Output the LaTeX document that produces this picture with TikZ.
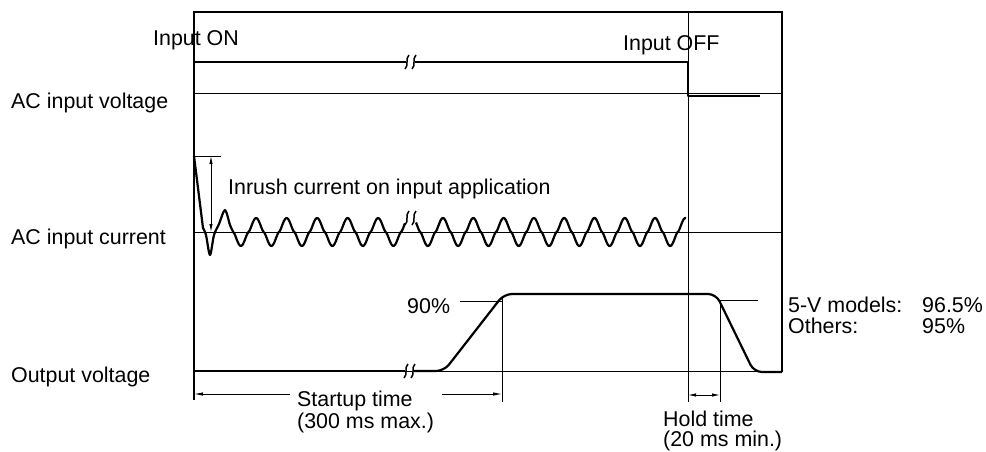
\documentclass[tikz,border=0pt]{standalone}
\usepackage{fontspec}
\setmainfont{Liberation Sans}
\usetikzlibrary{arrows.meta}
\begin{document}
\begin{tikzpicture}[x=1pt,y=-1pt,
  thinln/.style={line width=0.9pt},
  framel/.style={line width=1.3pt},
  sig/.style={line width=2.2pt,line join=round,line cap=butt},
  dimln/.style={line width=0.8pt},
  arrowend/.style={-{Latex[length=9pt,width=3.4pt]}},
  arrowboth/.style={{Latex[length=8pt,width=3.4pt]}-{Latex[length=8pt,width=3.4pt]}},
  lbl/.style={font=\fontsize{21.4}{23}\selectfont, inner sep=0pt, anchor=base west},
  brk/.pic={\draw[line width=1.5pt] (-2,7) .. controls (2.5,2.5) and (-2.5,-2.5) .. (2,-7);}
]
\useasboundingbox (0,0) rectangle (986,451);

% frame and reference lines
\draw[framel] (194,400) -- (194,12) -- (782,12) -- (782,372);
\draw[thinln] (688,12) -- (688,402);
\draw[thinln] (194,93) -- (782,93);
\draw[thinln] (194,232) -- (782,232);
\draw[thinln] (194,371) -- (782,371);

% labels
\node[lbl] (lv) at (11,108) {AC input voltage};
\node[lbl] (lc) at (11,244) {AC input current};
\node[lbl] (lo) at (11,382) {Output voltage};
\node[lbl] (on) at (153,45) {Input ON};
\node[lbl] (off) at (623,50) {Input OFF};

% AC input voltage
\draw[sig] (194,93) -- (194,62) -- (406,62);
\draw[sig] (415,62) -- (688,62) -- (688,96) -- (760,96);
\pic at (407,62) {brk};
\pic at (414,62) {brk};

% AC input current
\draw[sig] (194,156) -- (203,228) -- plot[smooth,tension=0.5] coordinates {(203,228) (206,235) (210,255) (214,235) (219,224) (225,210) (230,225) (233.25,232)}
  -- plot[domain=233.25:405,samples=160] (\x,{232-14*sin(11.8033*(\x-248.5))*sqrt(abs(sin(11.8033*(\x-248.5))))});
\pic at (407,218) {brk};
\pic at (414,218) {brk};
\draw[sig] plot[domain=416:686,samples=320] (\x,{232-14*sin(11.8812*(\x-435.4))*sqrt(abs(sin(11.8812*(\x-435.4))))});

% inrush dimension
\coordinate (inT) at (211,156);
\coordinate (inB) at (211,232);
\draw[thinln] (194,156) -- (221,156);
\draw[dimln,arrowboth] (inT) -- (inB);
\node[lbl] (inrush) at (228,194) {Inrush current on input application};

% Output voltage
\draw[sig] (194,371) -- (405,371);
\pic at (406,371) {brk};
\pic at (413,371) {brk};
\draw[sig,rounded corners=8pt] (414,371) -- (444,371) -- (504,294) -- (716,294) -- (754,372) -- (782,372);

% 90% and 96% markers
\draw[thinln] (460,301) -- (502,301);
\node[lbl] (p90) at (407,313) {90\%};
\draw[thinln] (502,298) -- (502,402);
\draw[thinln] (720,300) -- (758,300);
\draw[thinln] (720,300) -- (720,402);
\node[lbl] (m5) at (788,312) {5-V models:};
\node[lbl] (m5v) at (922,312) {96.5\%};
\node[lbl] (mo) at (788,333) {Others:};
\node[lbl] (mov) at (922,333) {95\%};

% startup time
\coordinate (suL) at (194,394);
\coordinate (suR) at (502,394);
\draw[dimln,arrowend] (290,394) -- (suL);
\draw[dimln,arrowend] (442,394) -- (suR);
\node[lbl] (su1) at (297,406) {Startup time};
\node[lbl] (su2) at (297,428) {(300 ms max.)};

% hold time
\coordinate (hoL) at (688,395);
\coordinate (hoR) at (720,395);
\draw[dimln,arrowboth] (hoL) -- (hoR);
\node[lbl] (ho1) at (663,426) {Hold time};
\node[lbl] (ho2) at (663,446) {(20 ms min.)};
\end{tikzpicture}
\end{document}
